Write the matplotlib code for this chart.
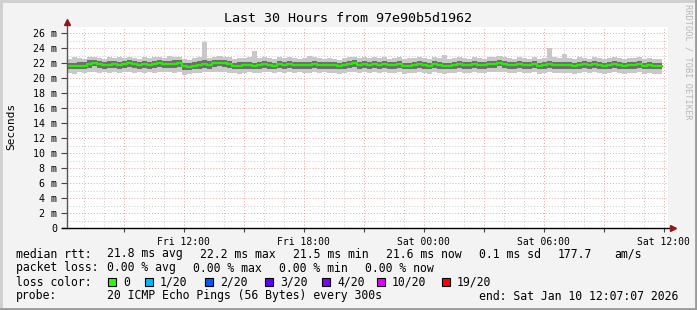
import numpy as np
import matplotlib.pyplot as plt
from matplotlib.patches import Rectangle
from matplotlib.lines import Line2D

W, H = 697, 310

# median rtt in ms, one value per 15 minutes (Fri 06:10 .. Sat 12:07)
median = [
    21.6, 21.6, 21.7, 21.7, 21.9, 22.1, 21.9, 21.8, 21.8, 21.9, 21.8, 21.9, 22.0, 21.9, 21.8, 21.9, 21.8, 21.9, 22.0, 21.9,
    21.9, 21.9, 22.0, 21.6, 21.5, 21.7, 21.8, 21.9, 21.8, 22.0, 22.1, 22.0, 21.9, 21.7, 21.7, 21.8, 21.8, 21.7, 21.8, 21.9,
    21.8, 21.7, 21.9, 21.8, 21.9, 21.8, 21.8, 21.8, 21.8, 21.9, 21.8, 21.8, 21.8, 21.8, 21.7, 21.8, 21.9, 22.0, 21.8, 21.9,
    21.8, 21.9, 21.8, 21.9, 21.8, 21.8, 21.9, 21.7, 21.7, 21.8, 21.9, 21.8, 21.7, 21.9, 21.8, 21.7, 21.7, 21.8, 21.9, 21.8,
    21.8, 21.9, 21.8, 21.8, 21.9, 21.9, 22.1, 21.9, 21.8, 21.8, 21.9, 21.8, 21.8, 21.9, 21.7, 21.8, 21.9, 21.8, 21.8, 21.8,
    21.8, 21.7, 21.8, 21.9, 21.8, 21.9, 21.8, 21.7, 21.8, 21.9, 21.8, 21.7, 21.8, 21.8, 21.9, 21.7, 21.8, 21.7, 21.6, 21.7,
]
# dense part of the smoke (roughly 25th / 75th percentile of the 20 pings)
q_lo = [
    21.2, 21.2, 21.3, 21.3, 21.4, 21.6, 21.4, 21.3, 21.4, 21.4, 21.3, 21.4, 21.5, 21.4, 21.3, 21.4, 21.3, 21.4, 21.5, 21.4,
    21.4, 21.4, 21.5, 21.1, 21.1, 21.2, 21.3, 21.4, 21.3, 21.5, 21.6, 21.5, 21.4, 21.2, 21.2, 21.3, 21.3, 21.2, 21.3, 21.4,
    21.3, 21.2, 21.4, 21.3, 21.4, 21.3, 21.3, 21.3, 21.3, 21.4, 21.3, 21.3, 21.3, 21.3, 21.2, 21.3, 21.4, 21.5, 21.3, 21.4,
    21.3, 21.4, 21.3, 21.4, 21.3, 21.3, 21.4, 21.2, 21.2, 21.3, 21.4, 21.3, 21.2, 21.4, 21.3, 21.2, 21.2, 21.3, 21.4, 21.3,
    21.3, 21.4, 21.3, 21.3, 21.4, 21.4, 21.6, 21.4, 21.3, 21.3, 21.4, 21.3, 21.3, 21.4, 21.2, 21.3, 21.4, 21.3, 21.3, 21.3,
    21.3, 21.2, 21.3, 21.4, 21.3, 21.4, 21.3, 21.2, 21.3, 21.4, 21.3, 21.2, 21.3, 21.3, 21.4, 21.2, 21.3, 21.2, 21.2, 21.2,
]
q_hi = [
    22.1, 22.1, 22.2, 22.2, 22.4, 22.5, 22.3, 22.2, 22.3, 22.3, 22.2, 22.3, 22.4, 22.3, 22.2, 22.3, 22.2, 22.3, 22.4, 22.3,
    22.3, 22.4, 22.4, 22.1, 22.0, 22.2, 22.3, 22.4, 22.3, 22.4, 22.5, 22.4, 22.3, 22.1, 22.2, 22.2, 22.2, 22.1, 22.2, 22.3,
    22.2, 22.1, 22.3, 22.2, 22.3, 22.2, 22.2, 22.2, 22.2, 22.3, 22.2, 22.2, 22.2, 22.2, 22.1, 22.2, 22.3, 22.4, 22.2, 22.3,
    22.2, 22.3, 22.2, 22.3, 22.2, 22.2, 22.3, 22.1, 22.1, 22.2, 22.3, 22.2, 22.1, 22.3, 22.2, 22.1, 22.1, 22.2, 22.3, 22.2,
    22.2, 22.3, 22.2, 22.2, 22.3, 22.3, 22.5, 22.3, 22.2, 22.2, 22.3, 22.2, 22.2, 22.3, 22.1, 22.2, 22.3, 22.2, 22.2, 22.2,
    22.2, 22.1, 22.2, 22.3, 22.2, 22.3, 22.2, 22.1, 22.2, 22.3, 22.2, 22.1, 22.2, 22.2, 22.3, 22.1, 22.2, 22.1, 22.1, 22.1,
]
ping_min = [
    20.7, 20.6, 20.8, 20.7, 20.8, 20.9, 20.7, 20.8, 20.7, 20.8, 20.7, 20.8, 20.9, 20.7, 20.8, 20.7, 20.8, 20.7, 20.9, 20.8,
    20.8, 20.7, 20.9, 20.5, 20.6, 20.7, 20.7, 20.8, 20.8, 20.9, 20.9, 20.8, 20.7, 20.7, 20.6, 20.7, 20.8, 20.7, 20.7, 20.8,
    20.8, 20.7, 20.8, 20.7, 20.8, 20.7, 20.8, 20.7, 20.7, 20.8, 20.7, 20.8, 20.7, 20.7, 20.6, 20.7, 20.8, 20.9, 20.7, 20.8,
    20.7, 20.8, 20.7, 20.8, 20.7, 20.7, 20.8, 20.6, 20.7, 20.7, 20.8, 20.7, 20.6, 20.8, 20.7, 20.6, 20.7, 20.7, 20.8, 20.7,
    20.7, 20.8, 20.7, 20.7, 20.8, 20.8, 20.9, 20.8, 20.7, 20.7, 20.8, 20.7, 20.7, 20.8, 20.6, 20.7, 20.8, 20.7, 20.7, 20.7,
    20.7, 20.6, 20.7, 20.8, 20.7, 20.8, 20.7, 20.6, 20.7, 20.8, 20.7, 20.6, 20.7, 20.7, 20.8, 20.6, 20.7, 20.6, 20.6, 20.7,
]
ping_max = [
    22.6, 22.8, 22.7, 22.6, 22.9, 22.9, 22.7, 22.6, 22.8, 22.7, 22.9, 22.7, 22.8, 22.7, 22.6, 22.8, 22.7, 22.9, 22.8, 22.7,
    23.0, 22.8, 22.9, 22.6, 22.5, 22.7, 22.8, 24.9, 22.7, 22.8, 23.0, 22.9, 22.8, 22.6, 22.7, 22.7, 22.8, 23.6, 22.7, 22.8,
    22.7, 22.6, 22.8, 22.7, 22.8, 22.7, 22.6, 22.7, 23.0, 22.8, 22.7, 22.6, 22.7, 22.6, 22.5, 22.7, 22.8, 22.9, 22.7, 22.8,
    22.7, 22.8, 22.7, 22.8, 22.6, 22.7, 22.8, 22.6, 22.7, 22.7, 22.8, 22.7, 22.6, 22.8, 22.7, 23.1, 22.6, 22.7, 22.8, 22.7,
    22.6, 22.8, 22.7, 22.6, 22.8, 22.8, 23.0, 22.8, 22.7, 22.6, 22.8, 22.7, 22.6, 22.8, 22.6, 22.7, 24.0, 22.8, 22.7, 23.3,
    22.7, 22.6, 22.8, 22.7, 22.6, 22.8, 22.7, 22.6, 22.7, 22.8, 22.7, 22.6, 22.7, 22.7, 22.8, 22.6, 22.7, 22.6, 22.6, 22.6,
]

tick_hours = [12, 18, 24, 30, 36]
tick_labels = ["Fri 12:00", "Fri 18:00", "Sat 00:00", "Sat 06:00", "Sat 12:00"]
y_ticks = list(range(0, 27, 2))
y_labels = ["0"] + ["%d m" % v for v in y_ticks[1:]]

loss_labels = ["0", "1/20", "2/20", "3/20", "4/20", "10/20", "19/20"]
loss_colors = ["#26ff00", "#00b8ff", "#0059ff", "#5e00ff", "#7e00ff", "#dd00ff", "#ff0000"]

# hours since Fri 00:00, 15 minute steps
t = 6.17 + 0.25 * np.arange(len(median))

MONO = "DejaVu Sans Mono"
plt.rcParams['font.family'] = MONO

fig = plt.figure(figsize=(W / 100, H / 100), dpi=100)
fig.patch.set_facecolor("#f3f3f3")

def px(x, y):
    return x / W, 1 - y / H

L, R, B, T = 67, 667.5, 228.3, 27
ax = fig.add_axes([L / W, 1 - B / H, (R - L) / W, (B - T) / H])
ax.set_facecolor("white")
ax.set_xlim(6.165, 36.19)
ax.set_ylim(0, (B - T) / 7.5)

ax.fill_between(t, ping_min, ping_max, step="post", color="#c8c8c8", lw=0)
ax.fill_between(t, q_lo, q_hi, step="post", color="#6e6e6e", lw=0)
ax.step(t, median, where="post", color="#22f000", lw=1.6)

# grid
ax.set_xticks(np.arange(9, 37, 3))
ax.set_xticks(np.arange(7, 37, 1), minor=True)
ax.set_yticks(y_ticks)
ax.set_yticks(range(1, 27), minor=True)
ax.grid(which="minor", color="#c8c8c8", ls=(0, (1, 2)), lw=0.7)
ax.grid(which="major", color="#e3a3a3", ls=(0, (1, 2)), lw=0.7)
ax.set_axisbelow(True)
ax.set_xticklabels([tick_labels[tick_hours.index(h)] if h in tick_hours else "" for h in range(9, 37, 3)])
ax.set_yticklabels(y_labels)
ax.tick_params(axis="x", which="major", length=3, pad=3, labelsize=7, colors="#444", labelcolor="black")
ax.tick_params(axis="x", which="minor", length=0)
ax.tick_params(axis="y", which="major", length=4, pad=3, labelsize=7.2, colors="#444", labelcolor="black")
ax.tick_params(axis="y", which="minor", length=0)
for s in ax.spines.values():
    s.set_visible(False)

# axes with arrows
fig.add_artist(Line2D([L / W, L / W], [1 - B / H, 1 - 22 / H], color="#555", lw=1))
fig.add_artist(Line2D([62 / W, 672 / W], [1 - B / H, 1 - B / H], color="black", lw=1))
fig.add_artist(Line2D([L / W], [1 - 22 / H], marker="^", ms=4, color="#8b1a1a", lw=0))
fig.add_artist(Line2D([673 / W], [1 - B / H], marker=">", ms=4, color="#8b1a1a", lw=0))

fig.text(*px(348, 19), "Last 30 Hours from 97e90b5d1962", ha="center", va="center", fontsize=9.6)
fig.text(*px(11, 126), "Seconds", rotation=90, ha="center", va="center", fontsize=8)
fig.text(*px(688, 4), "RRDTOOL / TOBI OETIKER", rotation=270, ha="center", va="top",
         fontsize=6.2, color="#b8b8b8")

fs = 8.3
rows = [
    (254, [(16, "median rtt:"), (107, "21.8 ms avg"), (200, "22.2 ms max"), (293, "21.5 ms min"),
           (386, "21.6 ms now"), (479, "0.1 ms sd"), (558, "177.7"), (614, "am/s")]),
    (268, [(16, "packet loss:"), (107, "0.00 % avg"), (193, "0.00 % max"), (279, "0.00 % min"),
           (365, "0.00 % now")]),
    (296, [(16, "probe:"), (107, "20 ICMP Echo Pings (56 Bytes) every 300s"),
           (479, "end: Sat Jan 10 12:07:07 2026")]),
]
for y, items in rows:
    for x, s in items:
        fig.text(*px(x, y), s, ha="left", va="center", fontsize=fs)

fig.text(*px(16, 282), "loss color:", ha="left", va="center", fontsize=fs)
box_x = [108, 145, 205, 265, 322, 377, 442]
for bx, lab, col in zip(box_x, loss_labels, loss_colors):
    fig.add_artist(Rectangle(px(bx, 286), 8 / W, 8 / H, facecolor=col, edgecolor="black", lw=0.8))
    fig.text(*px(bx + 15, 282), lab, ha="left", va="center", fontsize=fs)

# frame around the image
fig.add_artist(Line2D([0, 1], [0.997, 0.997], color="#cfcfcf", lw=2))
fig.add_artist(Line2D([0.001, 0.001], [0, 1], color="#cfcfcf", lw=2))
fig.add_artist(Line2D([0, 1], [0.003, 0.003], color="#9a9a9a", lw=2))
fig.add_artist(Line2D([0.999, 0.999], [0, 1], color="#9a9a9a", lw=2))

fig.savefig("out.png", dpi=100, facecolor=fig.get_facecolor())
